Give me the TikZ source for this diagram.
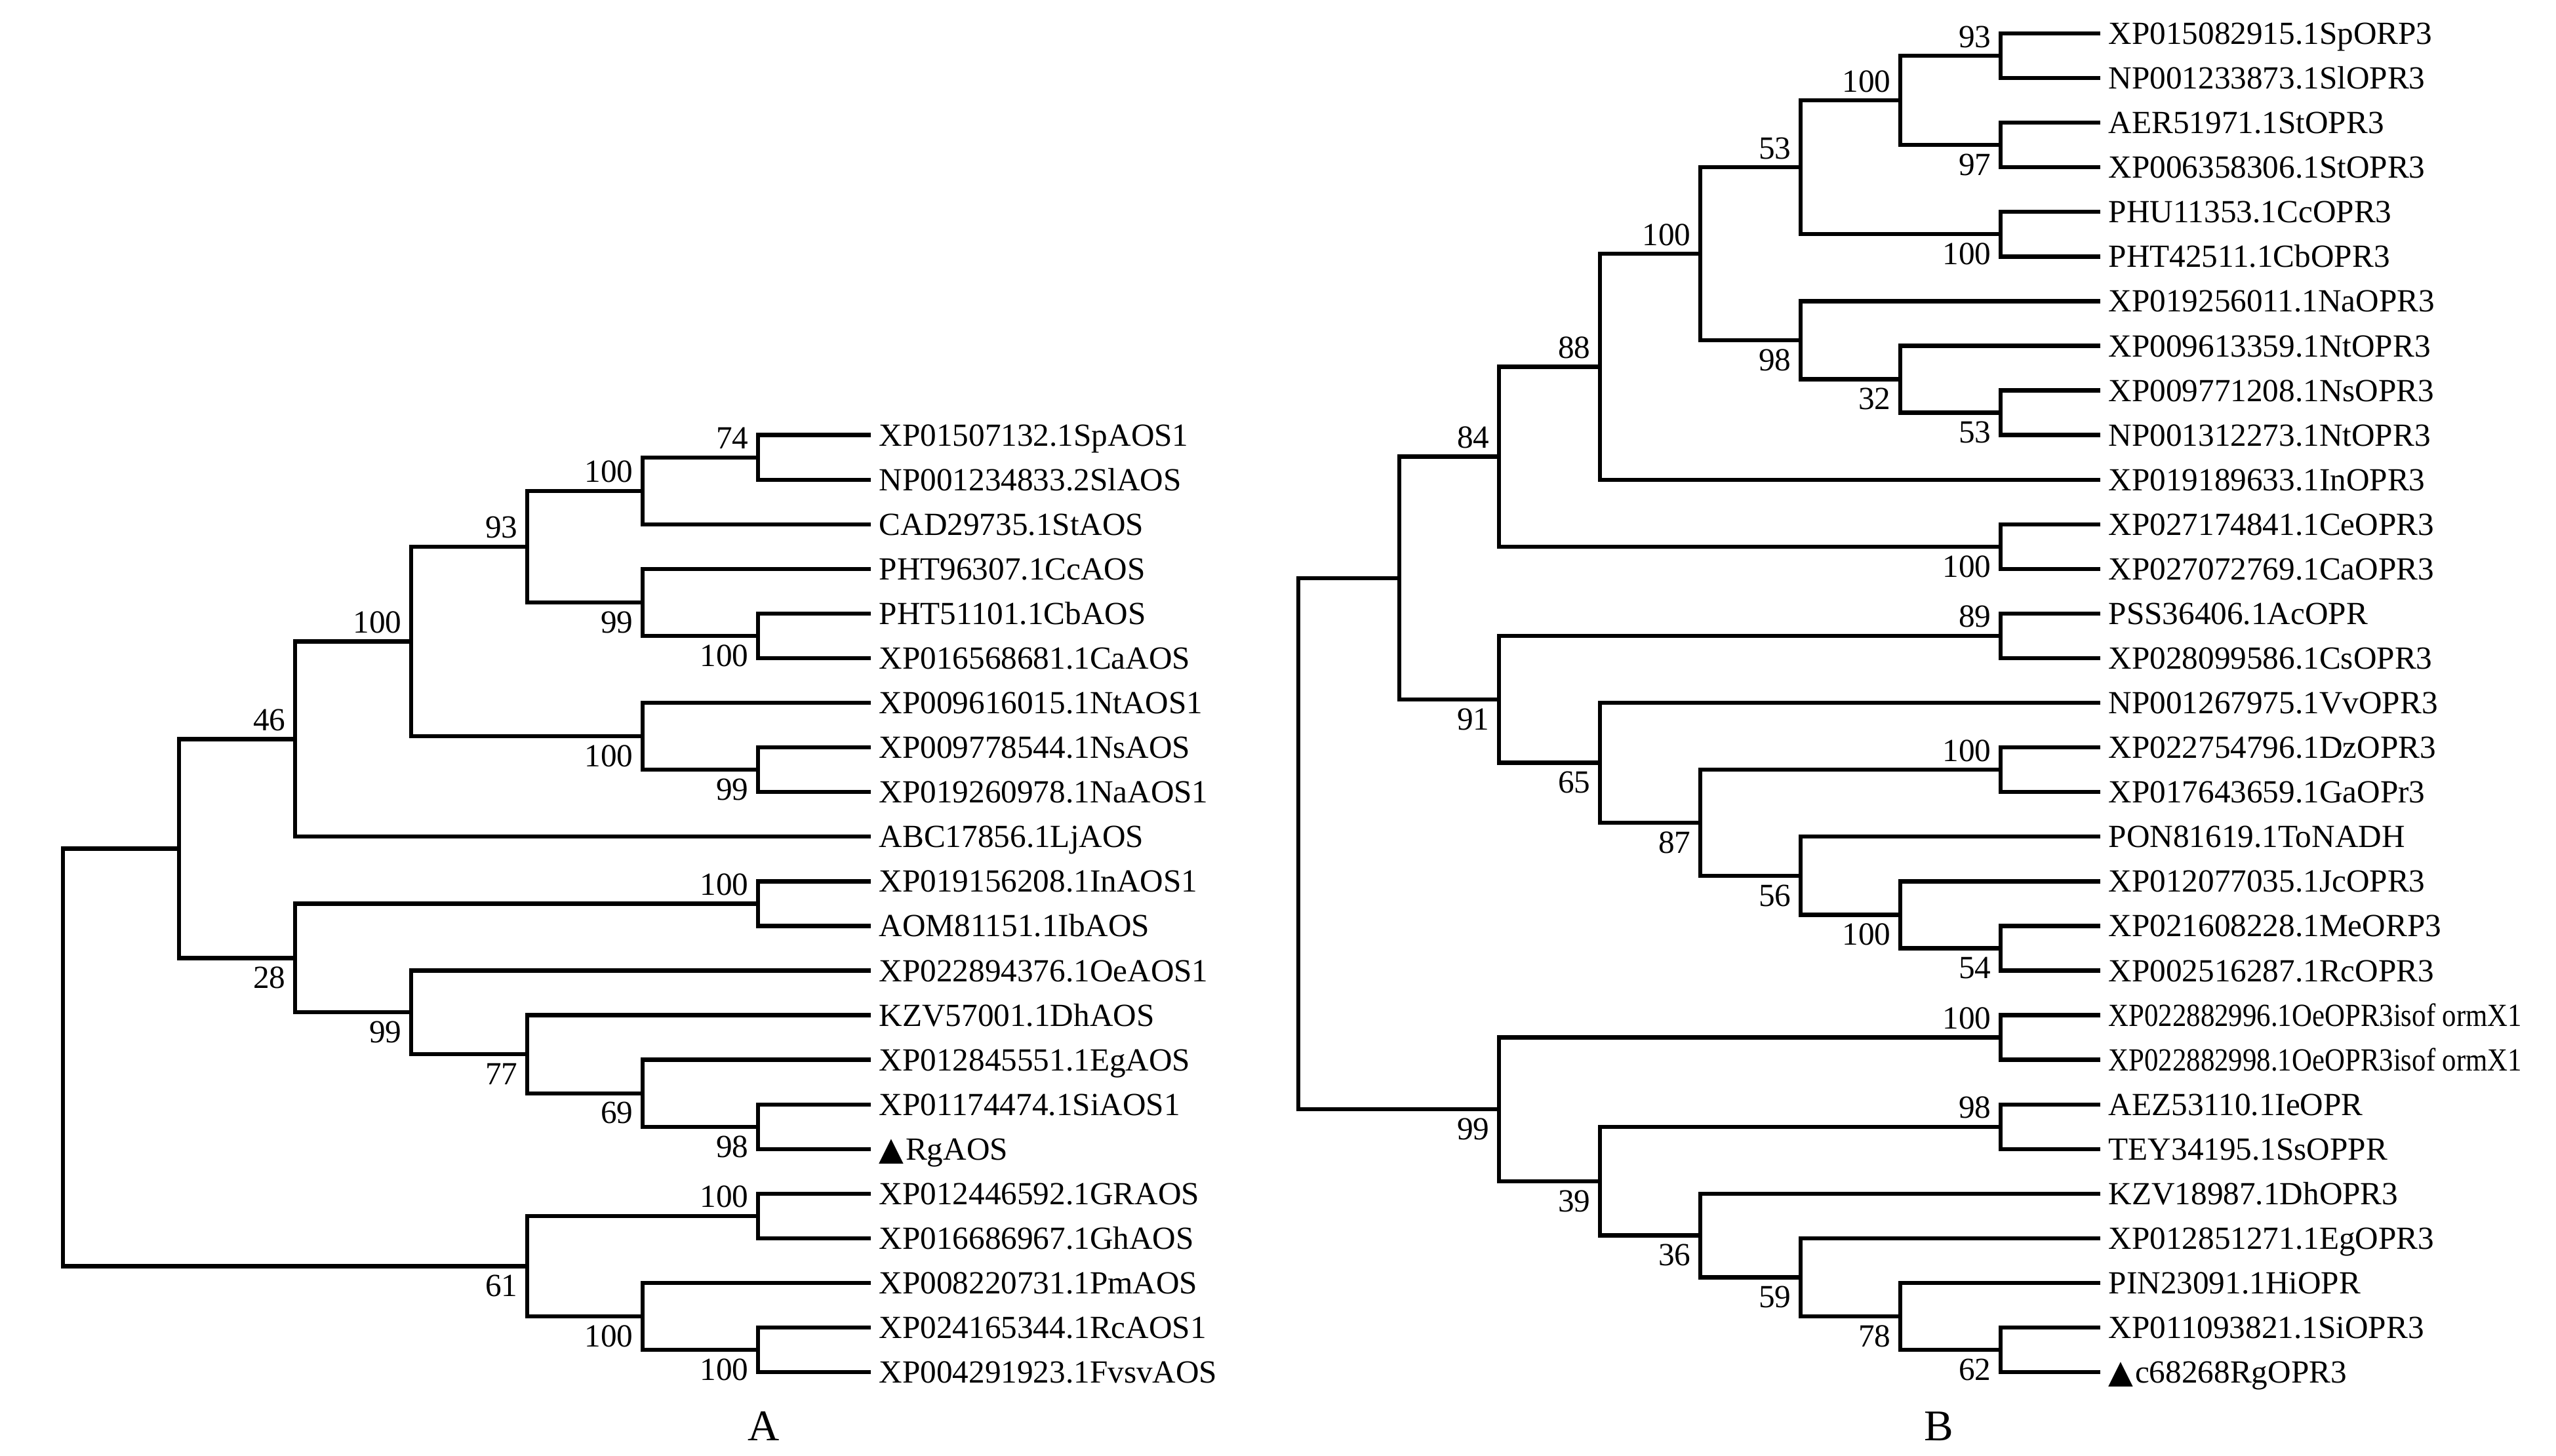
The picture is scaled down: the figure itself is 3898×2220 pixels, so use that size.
\documentclass[tikz,border=0pt]{standalone}
\usepackage{fontspec}
\setmainfont{Liberation Serif}
\newfontfamily\symf{DejaVu Sans}
\usepackage{graphicx}
\newcommand\rowy[1]{51+68.07*(#1)}
\newcommand\tb[3]{\draw[branch] (#2) -| (#1) |- (#3);}
\newcommand\tri{{\symf\fontsize{14}{16}\selectfont ▲}\kern0.05em}
\tikzset{
  branch/.style={line width=1.8pt, black},
  txt/.style={inner sep=0pt, font=\fontsize{14}{16}\selectfont},
  leaf/.style={txt, anchor=base west, xshift=0.12cm, yshift=-0.165cm},
  bsa/.style={txt, anchor=base east, xshift=-0.14cm, yshift=0.13cm},
  bsb/.style={txt, anchor=north east, xshift=-0.14cm, yshift=-0.13cm},
  panel/.style={inner sep=0pt, anchor=base, font=\fontsize{19}{22}\selectfont}
}
\begin{document}
\begin{tikzpicture}[x=0.01cm,y=-0.01cm]
\useasboundingbox (0,0) rectangle (3898,2220);
% ---------------- Tree A ----------------
\foreach \i [evaluate=\i as \r using int(\i+8)] in {1,...,22}{
  \coordinate (a\i) at (1328,{\rowy{\r}});
}
\coordinate (nA74)   at (1156,{\rowy{9.5}});
\coordinate (nA100a) at (980,{\rowy{10.25}});
\coordinate (nA100b) at (1156,{\rowy{13.5}});
\coordinate (nA99a)  at (980,{\rowy{12.75}});
\coordinate (nA93)   at (804,{\rowy{11.5}});
\coordinate (nA99b)  at (1156,{\rowy{16.5}});
\coordinate (nA100c) at (980,{\rowy{15.75}});
\coordinate (nA100d) at (627,{\rowy{13.625}});
\coordinate (nA46)   at (450,{\rowy{15.8125}});
\coordinate (nA100e) at (1156,{\rowy{19.5}});
\coordinate (nA98)   at (1156,{\rowy{24.5}});
\coordinate (nA69)   at (980,{\rowy{23.75}});
\coordinate (nA77)   at (804,{\rowy{22.875}});
\coordinate (nA99c)  at (627,{\rowy{21.9375}});
\coordinate (nA28)   at (450,{\rowy{20.71875}});
\coordinate (nAX)    at (273,{\rowy{18.265625}});
\coordinate (nA100f) at (1156,{\rowy{26.5}});
\coordinate (nA100g) at (1156,{\rowy{29.5}});
\coordinate (nA100h) at (980,{\rowy{28.75}});
\coordinate (nA61)   at (804,{\rowy{27.625}});
\coordinate (rootA)  at (96,{\rowy{22.9453125}});

\tb{nA74}{a1}{a2}
\tb{nA100a}{nA74}{a3}
\tb{nA100b}{a5}{a6}
\tb{nA99a}{a4}{nA100b}
\tb{nA93}{nA100a}{nA99a}
\tb{nA99b}{a8}{a9}
\tb{nA100c}{a7}{nA99b}
\tb{nA100d}{nA93}{nA100c}
\tb{nA46}{nA100d}{a10}
\tb{nA100e}{a11}{a12}
\tb{nA98}{a16}{a17}
\tb{nA69}{a15}{nA98}
\tb{nA77}{a14}{nA69}
\tb{nA99c}{a13}{nA77}
\tb{nA28}{nA100e}{nA99c}
\tb{nAX}{nA46}{nA28}
\tb{nA100f}{a18}{a19}
\tb{nA100g}{a21}{a22}
\tb{nA100h}{a20}{nA100g}
\tb{nA61}{nA100f}{nA100h}
\tb{rootA}{nAX}{nA61}

\node[bsa] (lA74) at (nA74) {74};
\node[bsa] (lA100a) at (nA100a) {100};
\node[bsa] (lA93) at (nA93) {93};
\node[bsa] (lA100d) at (nA100d) {100};
\node[bsa] (lA46) at (nA46) {46};
\node[bsa] (lA100e) at (nA100e) {100};
\node[bsa] (lA100f) at (nA100f) {100};
\node[bsb] (lA100b) at (nA100b) {100};
\node[bsb] (lA99a) at (nA99a) {99};
\node[bsb] (lA99b) at (nA99b) {99};
\node[bsb] (lA100c) at (nA100c) {100};
\node[bsb] (lA98) at (nA98) {98};
\node[bsb] (lA69) at (nA69) {69};
\node[bsb] (lA77) at (nA77) {77};
\node[bsb] (lA99c) at (nA99c) {99};
\node[bsb] (lA28) at (nA28) {28};
\node[bsb] (lA100g) at (nA100g) {100};
\node[bsb] (lA100h) at (nA100h) {100};
\node[bsb] (lA61) at (nA61) {61};

\node[leaf] (ta1) at (a1) {XP01507132.1SpAOS1};
\node[leaf] (ta2) at (a2) {NP001234833.2SlAOS};
\node[leaf] (ta3) at (a3) {CAD29735.1StAOS};
\node[leaf] (ta4) at (a4) {PHT96307.1CcAOS};
\node[leaf] (ta5) at (a5) {PHT51101.1CbAOS};
\node[leaf] (ta6) at (a6) {XP016568681.1CaAOS};
\node[leaf] (ta7) at (a7) {XP009616015.1NtAOS1};
\node[leaf] (ta8) at (a8) {XP009778544.1NsAOS};
\node[leaf] (ta9) at (a9) {XP019260978.1NaAOS1};
\node[leaf] (ta10) at (a10) {ABC17856.1LjAOS};
\node[leaf] (ta11) at (a11) {XP019156208.1InAOS1};
\node[leaf] (ta12) at (a12) {AOM81151.1IbAOS};
\node[leaf] (ta13) at (a13) {XP022894376.1OeAOS1};
\node[leaf] (ta14) at (a14) {KZV57001.1DhAOS};
\node[leaf] (ta15) at (a15) {XP012845551.1EgAOS};
\node[leaf] (ta16) at (a16) {XP01174474.1SiAOS1};
\node[leaf] (ta17) at (a17) {\tri RgAOS};
\node[leaf] (ta18) at (a18) {XP012446592.1GRAOS};
\node[leaf] (ta19) at (a19) {XP016686967.1GhAOS};
\node[leaf] (ta20) at (a20) {XP008220731.1PmAOS};
\node[leaf] (ta21) at (a21) {XP024165344.1RcAOS1};
\node[leaf] (ta22) at (a22) {XP004291923.1FvsvAOS};

% ---------------- Tree B ----------------
\foreach \i [evaluate=\i as \r using int(\i-1)] in {1,...,31}{
  \coordinate (b\i) at (3203,{\rowy{\r}});
}
\coordinate (nB93)   at (3051,{\rowy{0.5}});
\coordinate (nB97)   at (3051,{\rowy{2.5}});
\coordinate (nB100a) at (2898,{\rowy{1.5}});
\coordinate (nB100b) at (3051,{\rowy{4.5}});
\coordinate (nB53)   at (2746,{\rowy{3}});
\coordinate (nB53b)  at (3051,{\rowy{8.5}});
\coordinate (nB32)   at (2898,{\rowy{7.75}});
\coordinate (nB98)   at (2746,{\rowy{6.875}});
\coordinate (nB100c) at (2593,{\rowy{4.9375}});
\coordinate (nB88)   at (2440,{\rowy{7.46875}});
\coordinate (nB100d) at (3051,{\rowy{11.5}});
\coordinate (nB84)   at (2286,{\rowy{9.484375}});
\coordinate (nB89)   at (3051,{\rowy{13.5}});
\coordinate (nB100e) at (3051,{\rowy{16.5}});
\coordinate (nB54)   at (3051,{\rowy{20.5}});
\coordinate (nB100f) at (2898,{\rowy{19.75}});
\coordinate (nB56)   at (2746,{\rowy{18.875}});
\coordinate (nB87)   at (2593,{\rowy{17.6875}});
\coordinate (nB65)   at (2440,{\rowy{16.34375}});
\coordinate (nB91)   at (2286,{\rowy{14.921875}});
\coordinate (nB1)    at (2134,{\rowy{12.203125}});
\coordinate (nB100g) at (3051,{\rowy{22.5}});
\coordinate (nB98b)  at (3051,{\rowy{24.5}});
\coordinate (nB62)   at (3051,{\rowy{29.5}});
\coordinate (nB78)   at (2898,{\rowy{28.75}});
\coordinate (nB59)   at (2746,{\rowy{27.875}});
\coordinate (nB36)   at (2593,{\rowy{26.9375}});
\coordinate (nB39)   at (2440,{\rowy{25.71875}});
\coordinate (nB99)   at (2286,{\rowy{24.109375}});
\coordinate (rootB)  at (1980,{\rowy{18.15625}});

\tb{nB93}{b1}{b2}
\tb{nB97}{b3}{b4}
\tb{nB100a}{nB93}{nB97}
\tb{nB100b}{b5}{b6}
\tb{nB53}{nB100a}{nB100b}
\tb{nB53b}{b9}{b10}
\tb{nB32}{b8}{nB53b}
\tb{nB98}{b7}{nB32}
\tb{nB100c}{nB53}{nB98}
\tb{nB88}{nB100c}{b11}
\tb{nB100d}{b12}{b13}
\tb{nB84}{nB88}{nB100d}
\tb{nB89}{b14}{b15}
\tb{nB100e}{b17}{b18}
\tb{nB54}{b21}{b22}
\tb{nB100f}{b20}{nB54}
\tb{nB56}{b19}{nB100f}
\tb{nB87}{nB100e}{nB56}
\tb{nB65}{b16}{nB87}
\tb{nB91}{nB89}{nB65}
\tb{nB1}{nB84}{nB91}
\tb{nB100g}{b23}{b24}
\tb{nB98b}{b25}{b26}
\tb{nB62}{b30}{b31}
\tb{nB78}{b29}{nB62}
\tb{nB59}{b28}{nB78}
\tb{nB36}{b27}{nB59}
\tb{nB39}{nB98b}{nB36}
\tb{nB99}{nB100g}{nB39}
\tb{rootB}{nB1}{nB99}

\node[bsa] (lB93) at (nB93) {93};
\node[bsa] (lB100a) at (nB100a) {100};
\node[bsa] (lB53) at (nB53) {53};
\node[bsa] (lB100c) at (nB100c) {100};
\node[bsa] (lB88) at (nB88) {88};
\node[bsa] (lB84) at (nB84) {84};
\node[bsa] (lB89) at (nB89) {89};
\node[bsa] (lB100e) at (nB100e) {100};
\node[bsa] (lB100g) at (nB100g) {100};
\node[bsa] (lB98b) at (nB98b) {98};
\node[bsb] (lB97) at (nB97) {97};
\node[bsb] (lB100b) at (nB100b) {100};
\node[bsb] (lB53b) at (nB53b) {53};
\node[bsb] (lB32) at (nB32) {32};
\node[bsb] (lB98) at (nB98) {98};
\node[bsb] (lB100d) at (nB100d) {100};
\node[bsb] (lB54) at (nB54) {54};
\node[bsb] (lB100f) at (nB100f) {100};
\node[bsb] (lB56) at (nB56) {56};
\node[bsb] (lB87) at (nB87) {87};
\node[bsb] (lB65) at (nB65) {65};
\node[bsb] (lB91) at (nB91) {91};
\node[bsb] (lB62) at (nB62) {62};
\node[bsb] (lB78) at (nB78) {78};
\node[bsb] (lB59) at (nB59) {59};
\node[bsb] (lB36) at (nB36) {36};
\node[bsb] (lB39) at (nB39) {39};
\node[bsb] (lB99) at (nB99) {99};

\node[leaf] (tb1) at (b1) {XP015082915.1SpORP3};
\node[leaf] (tb2) at (b2) {NP001233873.1SlOPR3};
\node[leaf] (tb3) at (b3) {AER51971.1StOPR3};
\node[leaf] (tb4) at (b4) {XP006358306.1StOPR3};
\node[leaf] (tb5) at (b5) {PHU11353.1CcOPR3};
\node[leaf] (tb6) at (b6) {PHT42511.1CbOPR3};
\node[leaf] (tb7) at (b7) {XP019256011.1NaOPR3};
\node[leaf] (tb8) at (b8) {XP009613359.1NtOPR3};
\node[leaf] (tb9) at (b9) {XP009771208.1NsOPR3};
\node[leaf] (tb10) at (b10) {NP001312273.1NtOPR3};
\node[leaf] (tb11) at (b11) {XP019189633.1InOPR3};
\node[leaf] (tb12) at (b12) {XP027174841.1CeOPR3};
\node[leaf] (tb13) at (b13) {XP027072769.1CaOPR3};
\node[leaf] (tb14) at (b14) {PSS36406.1AcOPR};
\node[leaf] (tb15) at (b15) {XP028099586.1CsOPR3};
\node[leaf] (tb16) at (b16) {NP001267975.1VvOPR3};
\node[leaf] (tb17) at (b17) {XP022754796.1DzOPR3};
\node[leaf] (tb18) at (b18) {XP017643659.1GaOPr3};
\node[leaf] (tb19) at (b19) {PON81619.1ToNADH};
\node[leaf] (tb20) at (b20) {XP012077035.1JcOPR3};
\node[leaf] (tb21) at (b21) {XP021608228.1MeORP3};
\node[leaf] (tb22) at (b22) {XP002516287.1RcOPR3};
\node[leaf] (tb23) at (b23) {\scalebox{0.87}[1]{XP022882996.1OeOPR3isof ormX1}};
\node[leaf] (tb24) at (b24) {\scalebox{0.87}[1]{XP022882998.1OeOPR3isof ormX1}};
\node[leaf] (tb25) at (b25) {AEZ53110.1IeOPR};
\node[leaf] (tb26) at (b26) {TEY34195.1SsOPPR};
\node[leaf] (tb27) at (b27) {KZV18987.1DhOPR3};
\node[leaf] (tb28) at (b28) {XP012851271.1EgOPR3};
\node[leaf] (tb29) at (b29) {PIN23091.1HiOPR};
\node[leaf] (tb30) at (b30) {XP011093821.1SiOPR3};
\node[leaf] (tb31) at (b31) {\tri c68268RgOPR3};

% panel letters
\node[panel] (pA) at (1165,2197) {A};
\node[panel] (pB) at (2957,2197) {B};
\end{tikzpicture}
\end{document}
